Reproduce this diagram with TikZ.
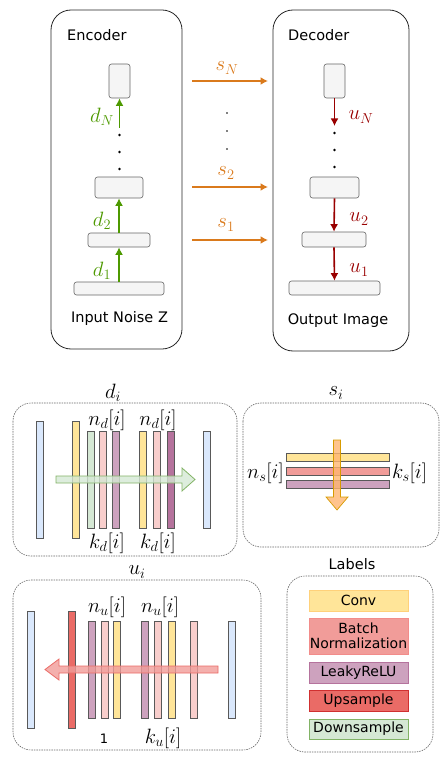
\documentclass[tikz,border=0pt]{standalone}
\usepackage{fontspec}
\setmainfont{DejaVu Sans}
\usetikzlibrary{arrows.meta,shadows}
\definecolor{cyel}{HTML}{FFE599}
\definecolor{cyelD}{HTML}{D6B656}
\definecolor{cpink}{HTML}{F8CECC}
\definecolor{csal}{HTML}{F19C99}
\definecolor{cpur}{HTML}{CDA2BE}
\definecolor{cpurD}{HTML}{B5739D}
\definecolor{cred}{HTML}{EA6B66}
\definecolor{credD}{HTML}{D03030}
\definecolor{cgrn}{HTML}{D5E8D4}
\definecolor{cgrnD}{HTML}{82B366}
\definecolor{cblu}{HTML}{DAE8FC}
\definecolor{cgray}{HTML}{F5F5F5}
\definecolor{cgrayD}{HTML}{666666}
\definecolor{corange}{HTML}{DA7A1C}
\definecolor{corgF}{HTML}{FFB570}
\definecolor{corgD}{HTML}{D79B00}
\definecolor{cgreenA}{HTML}{4D9900}
\definecolor{cdred}{HTML}{990000}
\DeclareMathSizes{19.5}{19.5}{13.5}{10}
\begin{document}
\begin{tikzpicture}[x=1pt,y=-1pt,
  bigbox/.style={draw=black!85, line width=0.8pt, rounded corners=20},
  dbox/.style={draw=black!60, line width=0.6pt, dash pattern=on 1.5pt off 1pt, rounded corners=18},
  gbox/.style={draw=cgrayD, fill=cgray, line width=0.6pt, rounded corners=2.5, inner sep=0},
  bar/.style={draw=black!65, line width=0.5pt, inner sep=0, minimum width=7,
     drop shadow={shadow xshift=0.8pt, shadow yshift=-0.8pt, opacity=0.25}},
  hbar/.style={bar, minimum width=103, minimum height=8},
  ttl/.style={font=\fontsize{14.5}{17}\selectfont, inner sep=0},
  mlab/.style={font=\fontsize{19.5}{22}\selectfont, inner sep=0},
  leg/.style={inner sep=0, minimum width=99, line width=0.7pt, align=center,
     font=\fontsize{14}{16.5}\selectfont},
  garr/.style={draw=cgreenA, line width=1.6pt, -{Latex[length=7.5pt,width=8pt]}},
  rarr/.style={draw=cdred, line width=1.6pt, -{Latex[length=7.5pt,width=8pt]}},
  oarr/.style={draw=corange, line width=1.6pt, -{Latex[length=7.5pt,width=8pt]}},
  dot/.style={circle, fill=black, inner sep=0, minimum size=2.6}
]
\useasboundingbox (0,0) rectangle (446,762);

% ---------- Encoder ----------
\draw[bigbox] (51,10) rectangle (182,349);
\node[ttl, anchor=west] (enc) at (67,35) {Encoder};
\node[gbox, minimum width=21, minimum height=34] (e3) at (119.5,81) {};
\node[gbox, minimum width=48, minimum height=21] (e2) at (119,187.5) {};
\node[gbox, minimum width=62, minimum height=14] (e1) at (119,240) {};
\node[gbox, minimum width=90, minimum height=13] (e0) at (119,288.5) {};
\node[ttl] (inz) at (119.5,318) {Input Noise Z};
\node[dot] (ed1) at (119.5,135) {};
\node[dot] (ed2) at (119.5,152) {};
\node[dot] (ed3) at (119.5,169) {};
\coordinate (edn) at (119.5,128);
\draw[garr] (e0.north -| e1) -- (e1.south);
\draw[garr] (e1.north) -- (e2.south);
\draw[garr] (edn) -- (e3.south);
\node[mlab, text=cgreenA] (ld1) at (102,271) {$d_1$};
\node[mlab, text=cgreenA] (ld2) at (102,221) {$d_2$};
\node[mlab, text=cgreenA] (ldN) at (102,117) {$d_N$};

% ---------- Decoder ----------
\draw[bigbox] (273,10) rectangle (409,351);
\node[ttl, anchor=west] (dec) at (288,35) {Decoder};
\node[gbox, minimum width=21, minimum height=34] (u3) at (334.5,81) {};
\node[gbox, minimum width=49, minimum height=21] (u2) at (334.5,187.5) {};
\node[gbox, minimum width=64, minimum height=15] (u1) at (334,239.5) {};
\node[gbox, minimum width=91, minimum height=14] (u0) at (334.5,288) {};
\node[ttl] (oim) at (338,321) {Output Image};
\node[dot] (ud1) at (334.5,133) {};
\node[dot] (ud2) at (334.5,150) {};
\node[dot] (ud3) at (334.5,167) {};
\coordinate (udn) at (334.5,126);
\draw[rarr] (u3.south) -- (udn);
\draw[rarr] (u2.south) -- (u1.north);
\draw[rarr] (u1.south) -- (u0.north);
\node[mlab, text=cdred] (lu1) at (359,270) {$u_1$};
\node[mlab, text=cdred] (lu2) at (359,219) {$u_2$};
\node[mlab, text=cdred] (luN) at (361,117) {$u_N$};

% ---------- skip connections ----------
\coordinate (sNa) at (192,81);  \coordinate (sNb) at (268,81);
\coordinate (s2a) at (192,187); \coordinate (s2b) at (268,187);
\coordinate (s1a) at (192,240); \coordinate (s1b) at (268,240);
\draw[oarr] (sNa) -- (sNb);
\draw[oarr] (s2a) -- (s2b);
\draw[oarr] (s1a) -- (s1b);
\node[mlab, text=corange] (lsN) at (227,68) {$s_N$};
\node[mlab, text=corange] (ls2) at (226,173) {$s_2$};
\node[mlab, text=corange] (ls1) at (226,225) {$s_1$};
\node[dot, minimum size=1.8] (sd1) at (227,113) {};
\node[dot, minimum size=1.8] (sd2) at (227,131) {};
\node[dot, minimum size=1.8] (sd3) at (227,149) {};

% ---------- d_i ----------
\draw[dbox] (13,403) rectangle (237,556);
\node[mlab] (tdi) at (113,393) {$d_i$};
\node[bar, fill=cblu, minimum height=117] (db1) at (39.5,479.5) {};
\node[bar, fill=cyel, minimum height=117] (db2) at (76,479.5) {};
\node[bar, fill=cgrn, minimum height=97] (db3) at (90.5,479.5) {};
\node[bar, fill=cpink, minimum height=97] (db4) at (103,479.5) {};
\node[bar, fill=cpur, minimum height=97] (db5) at (115.5,479.5) {};
\node[bar, fill=cyel, minimum height=97] (db6) at (143,479.5) {};
\node[bar, fill=cpink, minimum height=97] (db7) at (157,479.5) {};
\node[bar, fill=cpurD, minimum height=97] (db8) at (170.5,479.5) {};
\node[bar, fill=cblu, minimum height=97] (db9) at (206.5,479.5) {};
\filldraw[fill=cgrn, draw=cgrnD, line width=0.8pt, fill opacity=0.8]
  (56,476) -- (182,476) -- (182,468) -- (195,479.5) -- (182,491) -- (182,483) -- (56,483) -- cycle;
\node[mlab] (nd1) at (107,420) {$n_d[i]$};
\node[mlab] (nd2) at (158,420) {$n_d[i]$};
\node[mlab] (kd1) at (107,543) {$k_d[i]$};
\node[mlab] (kd2) at (158,543) {$k_d[i]$};

% ---------- s_i ----------
\draw[dbox] (243,403) rectangle (439,547);
\node[mlab] (tsi) at (336,393) {$s_i$};
\node[hbar, fill=cyel] (sb1) at (337.5,457) {};
\node[hbar, fill=csal] (sb2) at (337.5,471) {};
\node[hbar, fill=cpur] (sb3) at (337.5,484.5) {};
\filldraw[fill=corgF, draw=corgD, line width=0.7pt, fill opacity=0.8]
  (333.5,440) -- (340.5,440) -- (340.5,497) -- (348,497) -- (337,510) -- (326,497) -- (333.5,497) -- cycle;
\node[mlab] (nsi) at (265.5,473) {$n_s[i]$};
\node[mlab] (ksi) at (409.5,473) {$k_s[i]$};

% ---------- u_i ----------
\draw[dbox] (13,580) rectangle (261,750);
\node[mlab] (tui) at (137,572) {$u_i$};
\node[bar, fill=cblu, minimum height=117] (ub1) at (31,669.5) {};
\node[bar, fill=cred, minimum height=117] (ub2) at (71.5,669.5) {};
\node[bar, fill=cpur, minimum height=97] (ub3) at (92,669.5) {};
\node[bar, fill=cpink, minimum height=97] (ub4) at (104.5,669.5) {};
\node[bar, fill=cyel, minimum height=97] (ub5) at (117,669.5) {};
\node[bar, fill=cpur, minimum height=97] (ub6) at (144.5,669.5) {};
\node[bar, fill=cpink, minimum height=97] (ub7) at (158,669.5) {};
\node[bar, fill=cyel, minimum height=97] (ub8) at (172,669.5) {};
\node[bar, fill=cpink, minimum height=97] (ub9) at (193.5,669.5) {};
\node[bar, fill=cblu, minimum height=97] (ub10) at (231.5,669.5) {};
\filldraw[fill=csal, draw=cred, line width=0.8pt, fill opacity=0.8]
  (218,666) -- (59,666) -- (59,659) -- (45,669.5) -- (59,680) -- (59,673) -- (218,673) -- cycle;
\node[mlab] (nu1) at (107,607) {$n_u[i]$};
\node[mlab] (nu2) at (160,607) {$n_u[i]$};
\node[ttl, font=\fontsize{13}{15}\selectfont] (one) at (104,739) {1};
\node[mlab] (ku) at (163,738) {$k_u[i]$};

% ---------- Labels ----------
\draw[dbox] (287,576) rectangle (433,752);
\node[ttl] (tlab) at (352,564) {Labels};
\node[leg, fill=cyel, draw=cyel!80!orange, minimum height=21] (lconv) at (358.5,600.5) {Conv};
\node[leg, fill=csal, draw=csal!90!red, minimum height=36] (lbn) at (358.5,636) {Batch\\[-2pt]Normalization};
\node[leg, fill=cpur, draw=cpurD, minimum height=21] (llr) at (358.5,672.5) {LeakyReLU};
\node[leg, fill=cred, draw=credD, minimum height=21] (lup) at (358.5,700.5) {Upsample};
\node[leg, fill=cgrn, draw=cgrnD, minimum height=20] (ldown) at (358.5,729) {Downsample};
\end{tikzpicture}
\end{document}
